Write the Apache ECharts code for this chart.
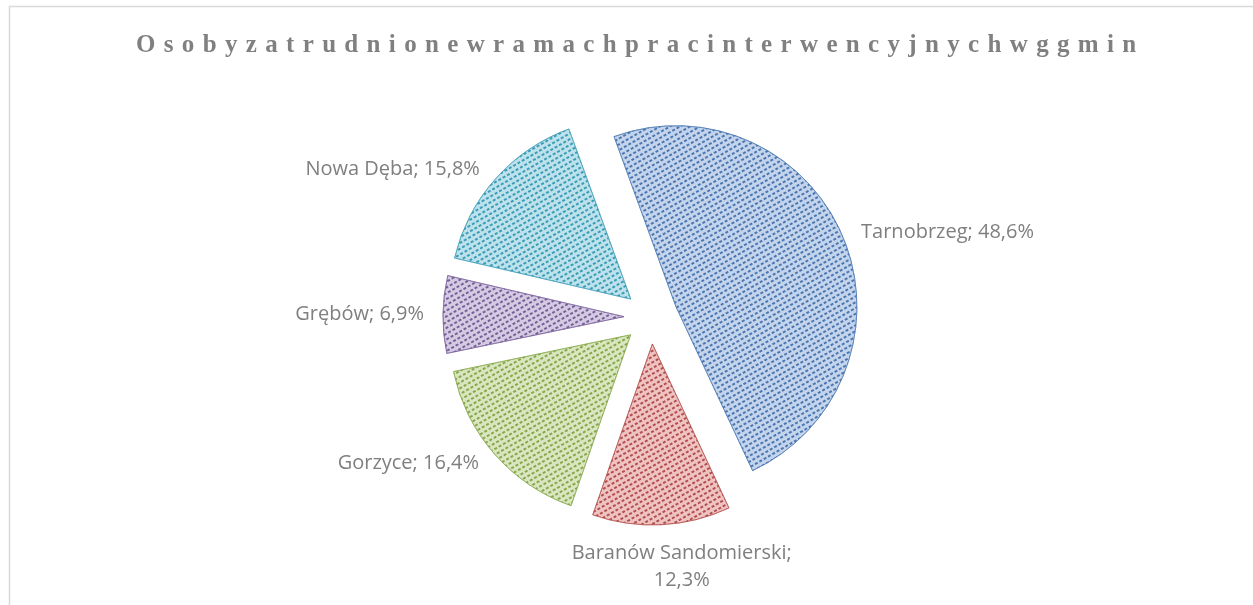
<!DOCTYPE html>
<html>
<head>
<meta charset="utf-8">
<script src="https://cdn.jsdelivr.net/npm/echarts@6/dist/echarts.min.js"></script>
<style>
html,body{margin:0;padding:0;background:#fff;}
#chart{width:1253px;height:605px;}
</style>
</head>
<body>
<div id="chart"></div>
<script>
/*dane*/
var chartTitle = 'Osobyzatrudnionewramachpracinterwencyjnychwggmin';
var categories = ['Tarnobrzeg', 'Baranów Sandomierski', 'Gorzyce', 'Grębów', 'Nowa Dęba'];
var shares = [48.6, 12.3, 16.4, 6.9, 15.8];

/*kolory*/
var fillColors = ['#c3d4ec', '#efc3c2', '#d9e6c0', '#d4cae2', '#bde2ec'];
var dotColors = ['#4a77b0', '#b24f4c', '#86a84a', '#77609a', '#3a9cb6'];

var pieData = categories.map(function (name, i) {
    var item = {
        name: name,
        value: shares[i],
        selected: true,
        itemStyle: {
            color: fillColors[i],
            borderColor: dotColors[i],
            borderWidth: 0.6,
            decal: {
                symbol: 'rect',
                symbolSize: 1,
                color: dotColors[i],
                dashArrayX: [2.5, 1.5],
                dashArrayY: [2, 2.5],
                rotation: -Math.PI / 6
            }
        }
    };
    // dłuższa nazwa - etykieta niżej
    if (name.length > 15) {
        item.labelLine = { show: false, length: 44, length2: 0 };
    }
    return item;
});

var option = {
    backgroundColor: '#fff',
    animation: false,
    title: {
        text: chartTitle.split('').join('\u2004'),
        left: 136,
        top: 33,
        padding: 0,
        textStyle: {
            fontFamily: 'Liberation Serif',
            fontWeight: 'bold',
            fontSize: 25,
            color: '#808080'
        }
    },
    graphic: [{
        type: 'rect',
        left: 7,
        top: 4,
        shape: { width: 1270, height: 620 },
        style: { fill: 'none', stroke: '#d9d9d9', lineWidth: 1.5 },
        silent: true
    }],
    series: [{
        type: 'pie',
        center: [651, 317],
        radius: 181,
        startAngle: 110,
        clockwise: true,
        selectedMode: 'multiple',
        selectedOffset: 27,
        avoidLabelOverlap: false,
        emphasis: { disabled: true },
        label: {
            show: true,
            position: 'outside',
            color: '#7f7f7f',
            fontFamily: 'Open Sans',
            fontSize: 20,
            lineHeight: 27,
            formatter: function (p) {
                var pct = p.value.toFixed(1).replace('.', ',') + '%';
                return p.name.length > 15 ? p.name + ';\n' + pct : p.name + '; ' + pct;
            }
        },
        labelLine: { show: false, length: 14, length2: 0 },
        labelLayout: function (p) {
            if (p.dataIndex === 1) {
                return { dx: 13, dy: -2, align: 'center' };
            }
        },
        data: pieData
    }]
};

var myChart = echarts.init(document.getElementById('chart'));
myChart.setOption(option);
</script>
</body>
</html>
